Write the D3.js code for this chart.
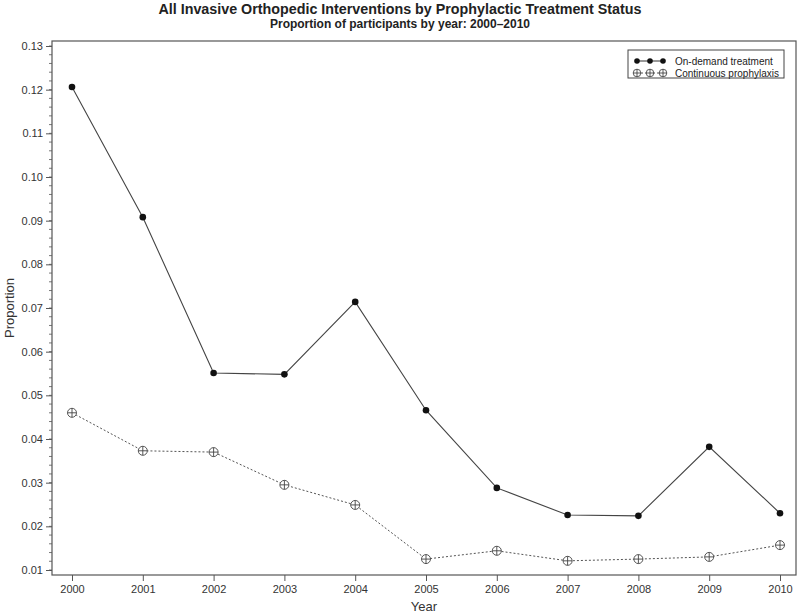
<!DOCTYPE html>
<html>
<head>
<meta charset="utf-8">
<script src="https://cdn.jsdelivr.net/npm/d3@7"></script>
<style>
  body { margin: 0; background: #fff; }
  svg { font-family: "Liberation Sans", Arial, sans-serif; }
</style>
</head>
<body>
<div id="chart"></div>
<script>
var width = 800;
var height = 614;

// data
var years = [2000, 2001, 2002, 2003, 2004, 2005, 2006, 2007, 2008, 2009, 2010];
var onDemand = [0.1206, 0.0908, 0.0551, 0.0548, 0.0714, 0.0466, 0.0288, 0.0226, 0.0224, 0.0382, 0.0230];
var continuous = [0.0460, 0.0373, 0.0370, 0.0295, 0.0249, 0.0125, 0.0144, 0.0121, 0.0125, 0.0130, 0.0157];
var yTicks = [0.01, 0.02, 0.03, 0.04, 0.05, 0.06, 0.07, 0.08, 0.09, 0.10, 0.11, 0.12, 0.13];
var seriesNames = ["On-demand treatment", "Continuous prophylaxis"];

var frame = { left: 52, right: 796, top: 41, bottom: 575 };

var svg = d3.select("#chart").append("svg")
  .attr("width", width)
  .attr("height", height);

var xScale = d3.scaleLinear().domain([2000, 2010]).range([72, 780]);
var yScale = d3.scaleLinear().domain([0.01, 0.13]).range([570, 46]);

// frame
svg.append("rect")
  .attr("x", frame.left)
  .attr("y", frame.top)
  .attr("width", frame.right - frame.left)
  .attr("height", frame.bottom - frame.top)
  .attr("fill", "none")
  .attr("stroke", "#555")
  .attr("stroke-width", 1.2);

// minor ticks on y every 0.002
var minor = d3.range(0, 61).map(i => 0.01 + i * 0.002).filter(v => v <= 0.1301);
svg.append("g").selectAll("line").data(minor).enter().append("line")
  .attr("x1", frame.left - 3).attr("x2", frame.left)
  .attr("y1", d => yScale(d)).attr("y2", d => yScale(d))
  .attr("stroke", "#555").attr("stroke-width", 0.8);

// y axis
var yAxis = d3.axisLeft(yScale).tickValues(yTicks).tickFormat(d3.format(".2f")).tickSize(6).tickPadding(3);
var gY = svg.append("g")
  .attr("transform", "translate(" + frame.left + ",0)")
  .call(yAxis);
gY.select(".domain").remove();
gY.selectAll("line").attr("stroke", "#555");
gY.selectAll("text").attr("font-size", 11).attr("fill", "#333")
  .attr("font-family", "'Liberation Sans', Arial, sans-serif");

// x axis
var xAxis = d3.axisBottom(xScale).tickValues(years).tickFormat(d3.format("d")).tickSize(6).tickPadding(4);
var gX = svg.append("g")
  .attr("transform", "translate(0," + frame.bottom + ")")
  .call(xAxis);
gX.select(".domain").remove();
gX.selectAll("line").attr("stroke", "#555");
gX.selectAll("text").attr("font-size", 11).attr("fill", "#333")
  .attr("font-family", "'Liberation Sans', Arial, sans-serif");

// axis labels
svg.append("text")
  .attr("x", (frame.left + frame.right) / 2).attr("y", 611)
  .attr("text-anchor", "middle")
  .attr("font-size", 13).attr("fill", "#333")
  .text("Year");

svg.append("text")
  .attr("transform", "translate(14," + ((frame.top + frame.bottom) / 2) + ") rotate(-90)")
  .attr("text-anchor", "middle")
  .attr("font-size", 13).attr("fill", "#333")
  .text("Proportion");

// titles
svg.append("text")
  .attr("x", 400).attr("y", 14)
  .attr("text-anchor", "middle")
  .attr("font-size", 14.3).attr("font-weight", "bold").attr("fill", "#222")
  .text("All Invasive Orthopedic Interventions by Prophylactic Treatment Status");

svg.append("text")
  .attr("x", 400).attr("y", 28)
  .attr("text-anchor", "middle")
  .attr("font-size", 12).attr("font-weight", "bold").attr("fill", "#222")
  .text("Proportion of participants by year: 2000\u20132010");

// lines
var line = d3.line()
  .x((d, i) => xScale(years[i]))
  .y(d => yScale(d));

svg.append("path")
  .datum(onDemand)
  .attr("d", line)
  .attr("fill", "none")
  .attr("stroke", "#444")
  .attr("stroke-width", 1.1);

svg.append("path")
  .datum(continuous)
  .attr("d", line)
  .attr("fill", "none")
  .attr("stroke", "#555")
  .attr("stroke-width", 1)
  .attr("stroke-dasharray", "2,2");

// markers
function filledMarker(g, x, y, r) {
  g.append("circle").attr("cx", x).attr("cy", y).attr("r", r).attr("fill", "#111");
}
function crossMarker(g, x, y, r) {
  g.append("circle").attr("cx", x).attr("cy", y).attr("r", r)
    .attr("fill", "#fff").attr("stroke", "#444").attr("stroke-width", 0.9);
  g.append("line").attr("x1", x - r).attr("x2", x + r).attr("y1", y).attr("y2", y)
    .attr("stroke", "#444").attr("stroke-width", 0.9);
  g.append("line").attr("x1", x).attr("x2", x).attr("y1", y - r).attr("y2", y + r)
    .attr("stroke", "#444").attr("stroke-width", 0.9);
}

var markers = svg.append("g");
onDemand.forEach((v, i) => filledMarker(markers, xScale(years[i]), yScale(v), 3.3));
continuous.forEach((v, i) => crossMarker(markers, xScale(years[i]), yScale(v), 4.5));

// legend
var legend = svg.append("g");
legend.append("rect")
  .attr("x", 628).attr("y", 50)
  .attr("width", 156).attr("height", 28)
  .attr("fill", "#fff").attr("stroke", "#444").attr("stroke-width", 1);

var legendY = [61, 73];
var legendX = [637, 650, 663];
legend.append("line")
  .attr("x1", legendX[0]).attr("x2", legendX[2])
  .attr("y1", legendY[0]).attr("y2", legendY[0])
  .attr("stroke", "#444").attr("stroke-width", 1.1);
legend.append("line")
  .attr("x1", legendX[0]).attr("x2", legendX[2])
  .attr("y1", legendY[1]).attr("y2", legendY[1])
  .attr("stroke", "#555").attr("stroke-width", 1).attr("stroke-dasharray", "2,2");
legendX.forEach(x => filledMarker(legend, x, legendY[0], 2.8));
legendX.forEach(x => crossMarker(legend, x, legendY[1], 3.8));

legend.selectAll("text.lbl").data(seriesNames).enter().append("text")
  .attr("class", "lbl")
  .attr("x", 675)
  .attr("y", (d, i) => legendY[i] + 3.5)
  .attr("font-size", 10).attr("fill", "#222")
  .text(d => d);
</script>
</body>
</html>
